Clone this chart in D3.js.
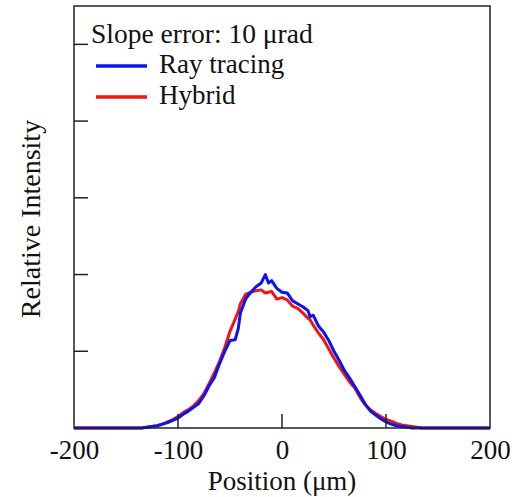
<!DOCTYPE html>
<html>
<head>
<meta charset="utf-8">
<script src="https://cdn.jsdelivr.net/npm/d3@7/dist/d3.min.js"></script>
<style>
  body { margin: 0; background: #fff; }
  text { font-family: "Liberation Serif", "Times New Roman", serif; fill: #111; }
</style>
</head>
<body>
<div id="chart"></div>
<script>
var w = 529, h = 497
var left_margin = 74, right_margin = 39, top_margin = 6, bottom_margin = 69
var font_size = 27

// positions in um
var positions = [-200,-180,-160,-140,-135,-130,-125,-120,-115,-110,-105,-100,-95,-90,-85,-80,-75,-70,-65,-60,-55,-50,-45,-42,-40,-35,-30,-25,-20,-16,-13,-10,-5,0,5,10,15,20,25,27,30,35,40,45,50,55,60,65,70,75,80,85,90,95,100,105,110,115,120,125,130,135,140,160,180,200]
var ray_tracing = [0,0,0,0,0,0.01,0.02,0.03,0.05,0.07,0.10,0.13,0.18,0.22,0.27,0.32,0.42,0.55,0.66,0.84,1.00,1.14,1.15,1.30,1.50,1.68,1.77,1.84,1.89,2.00,1.89,1.92,1.82,1.77,1.76,1.66,1.62,1.58,1.53,1.45,1.47,1.33,1.25,1.14,1.00,0.88,0.75,0.65,0.54,0.43,0.31,0.22,0.17,0.12,0.08,0.05,0.03,0.02,0.01,0,0,0,0,0,0,0]
var hybrid = [0,0,0,0,0,0.01,0.02,0.03,0.05,0.08,0.11,0.15,0.20,0.24,0.29,0.36,0.45,0.58,0.72,0.87,1.05,1.26,1.42,1.52,1.62,1.74,1.77,1.79,1.80,1.76,1.77,1.78,1.68,1.70,1.67,1.59,1.56,1.50,1.43,1.41,1.34,1.24,1.15,1.03,0.91,0.80,0.70,0.60,0.52,0.40,0.30,0.24,0.19,0.15,0.11,0.09,0.06,0.04,0.03,0.02,0.01,0,0,0,0,0]

var x_ticks = [-200,-100,0,100,200]
var y_ticks = [1,2,3,4,5]
var legend_title = "Slope error: 10 \u03bcrad"
var series_names = ["Ray tracing", "Hybrid"]
var series_colors = ["#0a14f0", "#f01414"]

var svg = d3.select("#chart").append("svg")
  .attr("width", w).attr("height", h)

var x = d3.scaleLinear().domain([-200, 200]).range([left_margin, w - right_margin])
var y = d3.scaleLinear().domain([0, 5.5]).range([h - bottom_margin, top_margin])

var line = d3.line()
  .x(function(d){ return x(d[0]) })
  .y(function(d){ return y(d[1]) })

// curves, red first, blue on top
var datasets = [ray_tracing, hybrid]
for (var i = datasets.length - 1; i >= 0; i--) {
  svg.append("path")
    .datum(positions.map(function(p, k){ return [p, datasets[i][k]] }))
    .attr("d", line)
    .attr("fill", "none")
    .attr("stroke", series_colors[i])
    .attr("stroke-width", 3)
    .attr("stroke-linejoin", "round")
}

// frame
svg.append("rect")
  .attr("x", x(-200)).attr("y", y(5.5))
  .attr("width", x(200) - x(-200)).attr("height", y(0) - y(5.5))
  .attr("fill", "none").attr("stroke", "#222").attr("stroke-width", 1.5)

// x axis: labels from the axis, inward ticks drawn separately
var x_axis = d3.axisBottom(x).tickValues(x_ticks).tickSize(0).tickPadding(12)
  .tickFormat(function(d){ return String(d) })
var gx = svg.append("g").attr("transform", "translate(0," + y(0) + ")").call(x_axis)
gx.select(".domain").remove()
gx.selectAll("text").attr("font-size", font_size).attr("font-family", "Liberation Serif").attr("fill", "#111")
svg.selectAll(".xtick").data(x_ticks.slice(1, -1)).enter().append("line")
  .attr("class", "xtick")
  .attr("x1", function(d){ return x(d) }).attr("x2", function(d){ return x(d) })
  .attr("y1", y(0)).attr("y2", y(0) - 14)
  .attr("stroke", "#222").attr("stroke-width", 1.5)

svg.selectAll(".ytick").data(y_ticks).enter().append("line")
  .attr("class", "ytick")
  .attr("x1", x(-200)).attr("x2", x(-200) + 14)
  .attr("y1", function(d){ return y(d) }).attr("y2", function(d){ return y(d) })
  .attr("stroke", "#222").attr("stroke-width", 1.5)

// axis titles
svg.append("text")
  .attr("x", x(0)).attr("y", 490)
  .attr("text-anchor", "middle").attr("font-size", font_size)
  .text("Position (\u03bcm)")

svg.append("text")
  .attr("transform", "translate(40," + 219 + ") rotate(-90)")
  .attr("text-anchor", "middle").attr("font-size", 28)
  .text("Relative Intensity")

// legend
svg.append("rect").attr("x", 88).attr("y", 18).attr("width", 232).attr("height", 92).attr("fill", "#fff")
svg.append("text").attr("x", 91).attr("y", 43).attr("font-size", 27.5).text(legend_title)
var leg = svg.selectAll(".leg").data(series_names).enter().append("g").attr("class", "leg")
  .attr("transform", function(d, i){ return "translate(0," + (66 + i * 31) + ")" })
leg.append("line").attr("x1", 96).attr("x2", 147).attr("y1", 0).attr("y2", 0)
  .attr("stroke", function(d, i){ return series_colors[i] }).attr("stroke-width", 3.5)
leg.append("text").attr("x", 159).attr("y", 7).attr("font-size", font_size).text(function(d){ return d })
</script>
</body>
</html>
